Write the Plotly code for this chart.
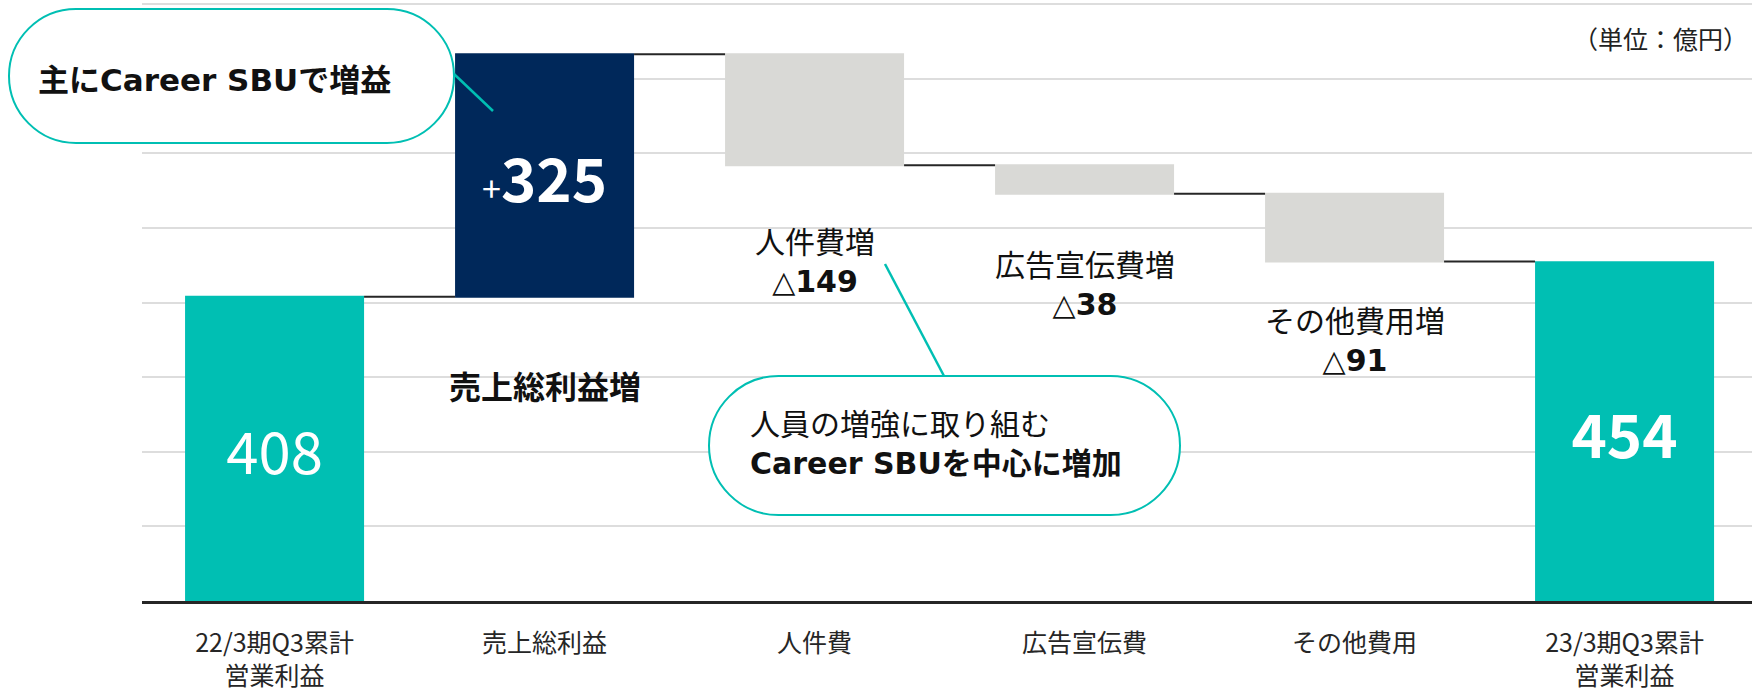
import plotly.graph_objects as go

# data (億円)
categories = ["22/3期Q3累計<br>営業利益", "売上総利益", "人件費", "広告宣伝費", "その他費用", "23/3期Q3累計<br>営業利益"]
measures = ["absolute", "relative", "relative", "relative", "relative", "absolute"]
values = [408, 325, -149, -38, -91, 454]
bar_text = ["408", "<span style='font-size:34px'>+</span><b>325</b>", "", "", "", "<b>454</b>"]
bar_text_size = [58, 60, 60, 60, 60, 60]

# cost labels under the grey bars
cost_names = ["人件費増", "広告宣伝費増", "その他費用増"]
cost_label_y = [454, 424, 348]
gross_label = "売上総利益増"
gross_label_y = 286

note1 = "<b>主にCareer SBUで増益</b>"
note2 = "人員の増強に取り組む<br><b>Career SBUを中心に増加</b>"
unit_text = "（単位：億円）"

TEAL = "#00BFB3"
NAVY = "#00285A"
GREY = "#D9D9D6"
MIX_FONT = "DejaVu Sans, Noto Sans CJK JP"
JP_FONT = "Noto Sans CJK JP"

W, H = 1752, 690
L, R, T, B = 142, 0, 2, 89
PW, PH = W - L - R, H - T - B


# pixel -> paper coords helpers (for callouts)
def px(x):
    return (x - L) / PW


def py(y):
    return (H - B - y) / PH


def pill(x0, y0, x1, y1):
    r = (y1 - y0) / 2
    cy = (y0 + y1) / 2
    k = 0.5523 * r
    pts = [
        ("M", [(x0 + r, y0)]),
        ("L", [(x1 - r, y0)]),
        ("C", [(x1 - r + k, y0), (x1, cy - k), (x1, cy)]),
        ("C", [(x1, cy + k), (x1 - r + k, y1), (x1 - r, y1)]),
        ("L", [(x0 + r, y1)]),
        ("C", [(x0 + r - k, y1), (x0, cy + k), (x0, cy)]),
        ("C", [(x0, cy - k), (x0 + r - k, y0), (x0 + r, y0)]),
    ]
    s = ""
    for cmd, ps in pts:
        s += cmd + " " + " ".join("%.5f,%.5f" % (px(a), py(b)) for a, b in ps) + " "
    return s + "Z"


fig = go.Figure()
fig.add_trace(go.Waterfall(
    x=categories, y=values, measure=measures,
    text=bar_text, textinfo="text", textposition="inside", insidetextanchor="middle",
    textfont=dict(color="white", size=bar_text_size, family=JP_FONT),
    width=0.663,
    increasing=dict(marker=dict(color=NAVY)),
    decreasing=dict(marker=dict(color=GREY)),
    totals=dict(marker=dict(color=TEAL)),
    connector=dict(mode="between", line=dict(color="#262626", width=2)),
    hoverinfo="skip",
))

# labels for the cost steps
for i, name in enumerate(cost_names):
    v = values[i + 2]
    fig.add_annotation(x=categories[i + 2], y=cost_label_y[i],
                       text=name + "<br>△<b>" + str(-v) + "</b>",
                       showarrow=False, font=dict(size=30, color="#111", family=MIX_FONT))
fig.add_annotation(x=categories[1], y=gross_label_y, text="<b>" + gross_label + "</b>",
                   showarrow=False, font=dict(size=32, color="#111", family=MIX_FONT))

# callouts
fig.add_shape(type="line", xref="paper", yref="paper", x0=px(454), y0=py(74), x1=px(493), y1=py(111),
              line=dict(color=TEAL, width=2.5))
fig.add_shape(type="line", xref="paper", yref="paper", x0=px(885), y0=py(264), x1=px(944), y1=py(376),
              line=dict(color=TEAL, width=2.5))
fig.add_shape(type="path", xref="paper", yref="paper", path=pill(9, 9, 454, 143),
              fillcolor="white", line=dict(color=TEAL, width=2))
fig.add_shape(type="path", xref="paper", yref="paper", path=pill(709, 376, 1180, 515),
              fillcolor="white", line=dict(color=TEAL, width=2))
fig.add_annotation(xref="paper", yref="paper", x=px(36), y=py(80), xanchor="left", yanchor="middle",
                   text=note1, showarrow=False, font=dict(size=31, color="#111", family=MIX_FONT))
fig.add_annotation(xref="paper", yref="paper", x=px(748), y=py(444), xanchor="left", yanchor="middle",
                   text=note2, showarrow=False, align="left",
                   font=dict(size=30, color="#111", family=MIX_FONT))
fig.add_annotation(xref="paper", yref="paper", x=px(1750), y=py(38), xanchor="right", yanchor="middle",
                   text=unit_text, showarrow=False, font=dict(size=25, color="#222", family=JP_FONT))

fig.update_layout(
    width=W, height=H,
    margin=dict(l=L, r=R, t=T, b=B),
    paper_bgcolor="white", plot_bgcolor="white",
    showlegend=False,
    xaxis=dict(range=[-0.491, 5.472], showline=True, linecolor="#262626", linewidth=3,
               showgrid=False, ticklabelstandoff=18, automargin=False,
               tickfont=dict(size=25, color="#262626", family=JP_FONT)),
    yaxis=dict(range=[0, 803], dtick=100, showgrid=True, gridcolor="#DDDDDD", gridwidth=1.5,
               showticklabels=False, zeroline=False, automargin=False),
)

# page body has a default 8px margin; drop it so the figure sits at the window corner
fig.write_html("out.html", config={"displayModeBar": False},
               post_script="document.body.style.margin='0px';")
